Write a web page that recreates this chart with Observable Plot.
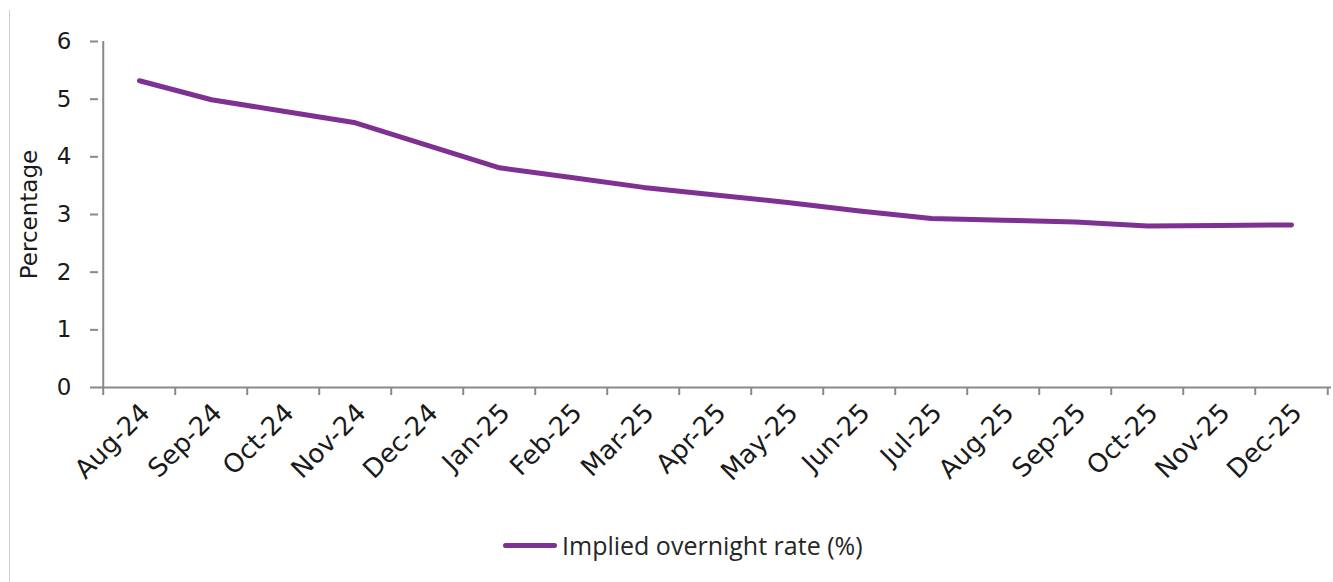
<!DOCTYPE html>
<html><head><meta charset="utf-8">
<script src="https://cdn.jsdelivr.net/npm/d3@7"></script>
<script src="https://cdn.jsdelivr.net/npm/@observablehq/plot@0.6"></script>
<style>
body{margin:0;background:#fff;}
#wrap{position:relative;width:1333px;height:582px;overflow:hidden;background:#fff}
#frame{position:absolute;left:9px;top:10px;width:1px;height:572px;background:#cfcfcf}
#chart{position:absolute;left:0;top:0}
#legend{position:absolute;left:503px;top:530px;height:30px;display:flex;align-items:center;font-family:"Open Sans";font-size:25px;color:#262626;white-space:nowrap}
#legend .sw{width:54px;height:5px;border-radius:3px;background:#7e3192;margin-right:5px}
</style>
</head><body>
<div id="wrap"><div id="frame"></div><div id="chart"></div>
<div id="legend"><span class="sw"></span><span id="legtext"></span></div></div>
<script>
const months = ["Aug-24","Sep-24","Oct-24","Nov-24","Dec-24","Jan-25","Feb-25","Mar-25","Apr-25","May-25","Jun-25","Jul-25","Aug-25","Sep-25","Oct-25","Nov-25","Dec-25"];
const rates = [5.32,4.99,4.79,4.59,4.20,3.81,3.64,3.47,3.34,3.21,3.06,2.93,2.90,2.87,2.80,2.81,2.82];
const yTicks = [0,1,2,3,4,5,6];
const seriesName = "Implied overnight rate (%)";
const yLabel = "Percentage";

document.getElementById("legtext").textContent = seriesName;

const data = months.map((m, i) => ({month: m, rate: rates[i]}));
const W = 1333, H = 510, mL = 98, mR = 2, mT = 41, mB = 123;
const step = (W - mL - mR) / months.length;
const grey = "#898989", purple = "#7e3192", ink = "#1a1a1a";
const tickFont = "DejaVu Sans";

const chart = Plot.plot({
  width: W, height: H,
  marginLeft: mL, marginRight: mR, marginTop: mT, marginBottom: mB,
  style: {fontFamily: tickFont, fontSize: "22px", color: ink, background: "transparent", overflow: "visible"},
  x: {type: "point", domain: months, padding: 0.5},
  y: {domain: [0, 6]},
  marks: [
    Plot.ruleY([0], {stroke: grey, strokeWidth: 2}),
    Plot.ruleX([months[0]], {y1: 0, y2: 6, dx: -step / 2, stroke: grey, strokeWidth: 2}),
    Plot.axisY({ticks: yTicks, tickSize: 8, text: null, label: null, stroke: grey, strokeWidth: 2, strokeOpacity: 1}),
    Plot.axisY({ticks: yTicks, tickSize: 0, tickPadding: 27, tickFormat: d3.format("d"), label: null, fontFamily: tickFont, fontSize: 23, fill: ink}),
    Plot.axisY({ticks: [], tickSize: 0, label: yLabel, labelAnchor: "center", labelArrow: "none", labelOffset: 78, fontFamily: tickFont, fontSize: 23, fill: ink}),
    Plot.axisX({ticks: months, tickSize: 8, text: null, label: null, dx: -step / 2, stroke: grey, strokeWidth: 2, strokeOpacity: 1}),
    Plot.axisX({ticks: [months[months.length - 1]], tickSize: 8, text: null, label: null, dx: step / 2, stroke: grey, strokeWidth: 2, strokeOpacity: 1}),
    Plot.axisX({ticks: months, tickSize: 0, tickPadding: 21, dx: 6, tickRotate: -45, label: null, fontFamily: tickFont, fontSize: 26, fill: ink}),
    Plot.line(data, {x: "month", y: "rate", stroke: purple, strokeWidth: 5, strokeLinecap: "round", strokeLinejoin: "round"})
  ]
});
document.getElementById("chart").appendChild(chart);
</script>
</body></html>
